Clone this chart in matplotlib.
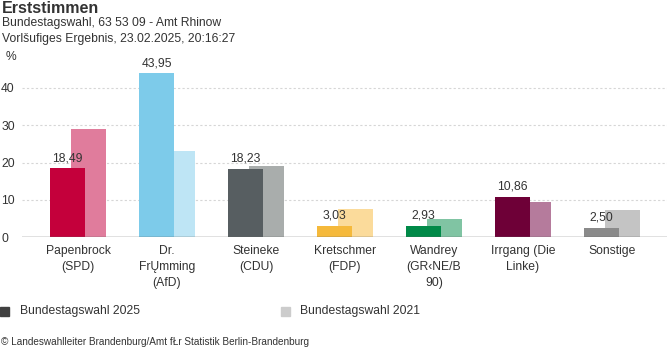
import matplotlib
matplotlib.use("Agg")
import matplotlib.pyplot as plt
import numpy as np

# data
candidates = ["Papenbrock\n(SPD)", "Dr.\nFrŲmming\n(AfD)", "Steineke\n(CDU)",
              "Kretschmer\n(FDP)", "Wandrey\n(GR‹NE/B\n90)", "Irrgang (Die\nLinke)",
              "Sonstige"]
votes_2025 = [18.49, 43.95, 18.23, 3.03, 2.93, 10.86, 2.50]
votes_2021 = [29.0, 23.1, 19.1, 7.5, 4.8, 9.4, 7.2]
labels_2025 = ["18,49", "43,95", "18,23", "3,03", "2,93", "10,86", "2,50"]
colors_2025 = ["#C4003B", "#7DCBEA", "#575E61", "#F5B93B", "#008A48", "#6E0037", "#8A8A8A"]
colors_2021 = ["#E07C9C", "#BEE5F5", "#A9ADAC", "#FBDB9B", "#80C4A3", "#B57B9C", "#C4C4C4"]
y_ticks = [0, 10, 20, 30, 40]

TXT = "#333333"
FS = 8.7
plt.rcParams["font.family"] = ["Liberation Sans", "DejaVu Sans"]

W, H = 667, 352
fig = plt.figure(figsize=(W / 100, H / 100), dpi=100)

# axes: x from 22px to 667px, y=0 at 237px, y=40 at 88px
ax_left, ax_right = 22, 667
y0_px, y40_px = 237, 88
px_per_unit = (y0_px - y40_px) / 40
ymax = 47.5
ax_top = y0_px - ymax * px_per_unit
ax = fig.add_axes([ax_left / W, 1 - y0_px / H, (ax_right - ax_left) / W, (y0_px - ax_top) / H])

x = np.arange(len(candidates))
bw = 0.393
off = 0.118
ax.bar(x + off, votes_2021, bw, color=colors_2021, zorder=2)
ax.bar(x - off, votes_2025, bw, color=colors_2025, zorder=3)

for xi, v, lab in zip(x, votes_2025, labels_2025):
    ax.text(xi - off, v + 1.1, lab, ha="center", va="bottom", fontsize=FS, color=TXT, zorder=4)

ax.set_xlim(-0.63, 6.62)
ax.set_ylim(0, ymax)
for t in y_ticks[1:]:
    ax.axhline(t, color="#D6D6D6", lw=0.8, ls=(0, (2, 2)), zorder=1)
ax.axhline(0, color="#666666", lw=1.0, zorder=5)

for s in ax.spines.values():
    s.set_visible(False)
ax.set_yticks(y_ticks)
ax.set_yticklabels([str(t) for t in y_ticks])
ax.tick_params(axis="y", length=0, pad=15, labelsize=FS, labelcolor=TXT)
for lab in ax.get_yticklabels():
    lab.set_horizontalalignment("left")
ax.set_xticks(x)
ax.set_xticklabels(candidates)
ax.tick_params(axis="x", length=0, pad=6, labelsize=FS, labelcolor=TXT)
for lab in ax.get_xticklabels():
    lab.set_linespacing(1.4)

# header
fig.text(2 / W, 1 - 1 / H, "Erststimmen", fontsize=11.5, fontweight="bold", color=TXT, va="top")
fig.text(2 / W, 1 - 17 / H, "Bundestagswahl, 63 53 09 - Amt Rhinow", fontsize=FS, color=TXT, va="top")
fig.text(2 / W, 1 - 33 / H, "Vorlšufiges Ergebnis, 23.02.2025, 20:16:27", fontsize=FS, color=TXT, va="top")
fig.text(6 / W, 1 - 51 / H, "%", fontsize=FS, color=TXT, va="top")

# legend
fig.patches.append(plt.Rectangle((0, 1 - 316 / H), 9 / W, 9 / H, transform=fig.transFigure,
                                 color="#404040", figure=fig))
fig.text(20 / W, 1 - 311 / H, "Bundestagswahl 2025", fontsize=FS, color=TXT, va="center")
fig.patches.append(plt.Rectangle((281 / W, 1 - 316 / H), 9 / W, 9 / H, transform=fig.transFigure,
                                 color="#CCCCCC", figure=fig))
fig.text(300 / W, 1 - 311 / H, "Bundestagswahl 2021", fontsize=FS, color=TXT, va="center")

fig.text(1 / W, 1 - 342 / H, "© Landeswahlleiter Brandenburg/Amt fŁr Statistik Berlin-Brandenburg",
         fontsize=7.2, color=TXT, va="center")

fig.savefig("out.png", dpi=100)
